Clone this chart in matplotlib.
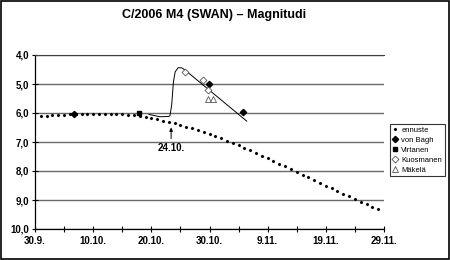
import numpy as np
import matplotlib
matplotlib.use("Agg")
import matplotlib.pyplot as plt
from matplotlib.patches import Rectangle

plt.rcParams['font.family'] = ['Liberation Sans', 'DejaVu Sans']

# days counted from 30.9.
tick_days = [0, 10, 20, 30, 40, 50, 60]
tick_labels = ['30.9.', '10.10.', '20.10.', '30.10.', '9.11.', '19.11.', '29.11.']

# ennuste (prediction), one point per day, days 1..59
pred_day = np.arange(1, 60)
pred_mag = [6.11, 6.09, 6.08, 6.07, 6.06, 6.05, 6.05, 6.04, 6.04, 6.04,
            6.04, 6.04, 6.04, 6.04, 6.05, 6.06, 6.08, 6.10, 6.15, 6.18,
            6.22, 6.27, 6.30, 6.36, 6.41, 6.47, 6.53, 6.59, 6.645, 6.72,
            6.79, 6.87, 6.955, 7.02, 7.11, 7.20, 7.28, 7.38, 7.47, 7.56,
            7.655, 7.75, 7.84, 7.94, 8.045, 8.13, 8.22, 8.32, 8.41, 8.52,
            8.60, 8.69, 8.79, 8.87, 8.98, 9.07, 9.15, 9.24, 9.32]

# observations
bagh_day = [6.7, 29.9, 35.7]
bagh_mag = [6.05, 5.01, 5.98]
virt_day = [17.9]
virt_mag = [6.0]
kuos_day = [25.8, 28.8, 29.8]
kuos_mag = [4.57, 4.86, 5.2]
make_day = [29.7, 30.6]
make_mag = [5.5, 5.5]

# hand drawn outburst curve
curve_day = [19.6, 21.5, 22.9, 23.2, 23.5, 23.8, 24.1, 24.6, 25.2, 25.8, 36.4]
curve_mag = [6.05, 6.13, 6.12, 6.10, 5.72, 4.92, 4.58, 4.44, 4.44, 4.52, 6.28]

fig = plt.figure(figsize=(4.5, 2.6), dpi=100)
ax = fig.add_axes([35/450, 1-229/260, 349/450, 174/260])

ax.plot(curve_day, curve_mag, color='black', lw=0.7)
ax.plot(pred_day, pred_mag, 'D', color='black', ms=1.1, ls='none', label='ennuste')
ax.plot(bagh_day, bagh_mag, 'D', color='black', ms=3.2, ls='none', label='von Bagh')
ax.plot(virt_day, virt_mag, 's', color='black', ms=3.2, ls='none', label='Virtanen')
ax.plot(kuos_day, kuos_mag, 'D', mfc='white', mec='#555555', mew=0.6, ms=3.5,
        ls='none', label='Kuosmanen')
ax.plot(make_day, make_mag, '^', mfc='white', mec='#555555', mew=0.6, ms=4.5,
        ls='none', label='Mäkelä')

ax.annotate('24.10.', xy=(23.4, 6.5), xytext=(23.4, 7.2),
            ha='center', va='center', fontsize=7, fontweight='bold',
            arrowprops=dict(arrowstyle='-|>', color='black', lw=0.7,
                            mutation_scale=5, shrinkA=1, shrinkB=0))

ax.set_xlim(0, 60)
ax.set_ylim(10, 4)
ax.set_xticks(tick_days)
ax.set_xticklabels(tick_labels)
ax.set_xticks([5, 15, 25, 35, 45, 55], minor=True)
ax.set_yticks([4, 5, 6, 7, 8, 9, 10])
ax.set_yticklabels(['4,0', '5,0', '6,0', '7,0', '8,0', '9,0', '10,0'])
for lab in ax.get_xticklabels() + ax.get_yticklabels():
    lab.set_fontweight('bold')
    lab.set_fontsize(7)
ax.tick_params(axis='both', which='both', direction='inout', length=4, width=0.8)
ax.tick_params(axis='x', pad=3)
ax.tick_params(axis='y', pad=2)
ax.grid(axis='y', color='#6a6a6a', lw=1.0)
ax.set_axisbelow(True)
ax.spines['right'].set_visible(False)
ax.spines['top'].set_color('#404040')
ax.spines['left'].set_linewidth(0.9)
ax.spines['bottom'].set_linewidth(0.9)

fig.text(214/450, 1-15/260, 'C/2006 M4 (SWAN) – Magnitudi', ha='center', va='center',
         fontsize=9, fontweight='bold')

leg = fig.legend(loc='upper left', bbox_to_anchor=(390/450, 1-124/260), fontsize=5.5,
                 frameon=True, fancybox=False, borderpad=0.3, handlelength=0.8,
                 handletextpad=0.4, labelspacing=0.35, borderaxespad=0)
leg.get_frame().set_edgecolor('black')
leg.get_frame().set_linewidth(0.8)

fig.patches.append(Rectangle((0.003, 0.005), 0.994, 0.99, transform=fig.transFigure,
                             fill=False, edgecolor='black', lw=1.2))

fig.savefig('out.png', dpi=100)
